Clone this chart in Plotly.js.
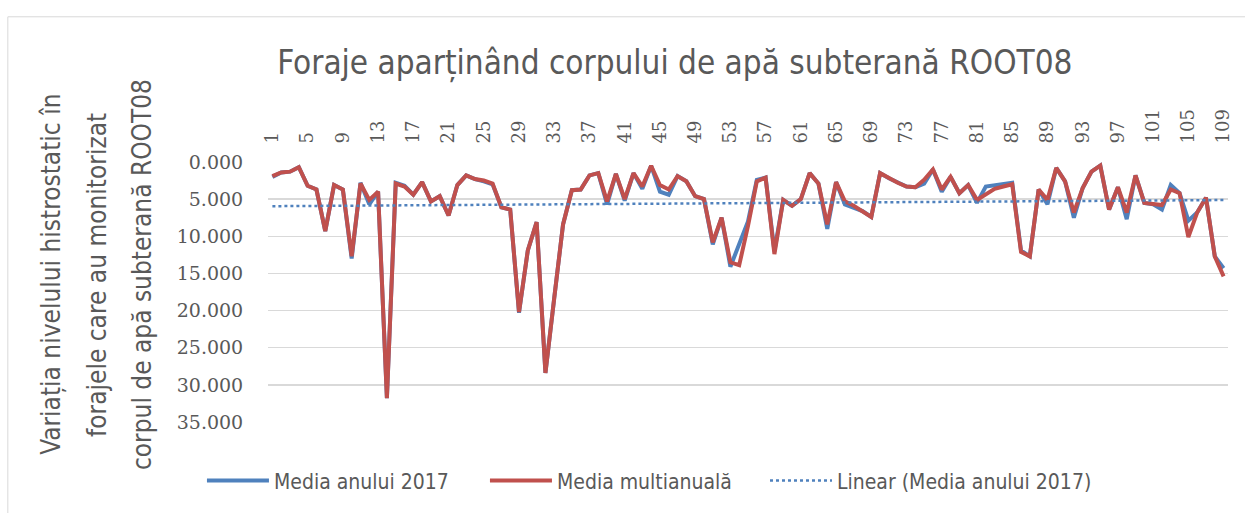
<!DOCTYPE html>
<html>
<head>
<meta charset="utf-8">
<script src="https://cdn.plot.ly/plotly-3.0.1.min.js"></script>
<style>
html,body{margin:0;padding:0;background:#fff;}
#chart{width:1245px;height:513px;}
</style>
</head>
<body>
<div id="chart"></div>
<script>
var categories = [1,2,3,4,5,6,7,8,9,10,11,12,13,14,15,16,17,18,19,20,
21,22,23,24,25,26,27,28,29,30,31,32,33,34,35,36,37,38,39,40,
41,42,43,44,45,46,47,48,49,50,51,52,53,54,55,56,57,58,59,60,
61,62,63,64,65,66,67,68,69,70,71,72,73,74,75,76,77,78,79,80,
81,82,83,84,85,86,87,88,89,90,91,92,93,94,95,96,97,98,99,100,
101,102,103,104,105,106,107,108,109];

var mediaMultianuala = [1.9,1.4,1.3,0.7,3.2,3.7,9.3,3.1,3.7,12.7,
2.9,5.1,4.0,31.8,2.9,3.3,4.4,2.7,5.3,4.6,
7.2,3.1,1.8,2.3,2.5,2.9,6.1,6.4,20.2,11.9,
8.1,28.4,18.3,8.4,3.8,3.7,1.8,1.5,5.3,1.6,
5.0,1.5,3.3,0.5,3.1,3.7,1.9,2.6,4.6,5.0,
10.8,7.5,13.5,13.9,8.6,2.6,2.1,12.4,5.1,5.9,
5.0,1.5,2.9,8.4,2.7,5.3,5.9,6.6,7.4,1.5,
2.2,2.8,3.3,3.4,2.4,1.0,3.7,2.0,4.2,3.1,
5.1,4.3,3.6,3.3,3.0,12.1,12.7,3.7,5.1,0.8,
2.6,6.8,3.5,1.3,0.5,6.4,3.4,6.8,1.8,5.5,
5.7,5.8,3.7,4.2,10.1,6.8,4.8,12.7,15.4];

var mediaAnului2017 = [2.0,1.4,1.3,0.7,3.2,3.7,9.3,3.1,3.7,13.0,
2.8,5.7,4.0,31.8,2.8,3.2,4.4,2.7,5.3,4.6,
7.2,3.1,1.8,2.3,2.6,3.0,6.1,6.4,20.3,11.9,
8.1,28.4,18.3,8.4,3.8,3.7,1.8,1.5,5.7,1.6,
5.2,1.5,3.6,0.5,4.0,4.4,1.9,2.6,4.6,5.0,
11.1,7.5,14.1,11.2,8.0,2.4,2.1,12.0,5.1,5.9,
5.0,1.5,2.9,9.0,2.7,5.7,6.2,6.6,7.4,1.5,
2.2,2.8,3.3,3.4,2.9,1.0,4.0,2.0,4.2,3.1,
5.5,3.3,3.1,3.0,2.8,11.9,12.7,3.7,5.7,0.8,
2.6,7.5,3.5,1.3,0.5,6.4,3.4,7.7,1.8,5.5,
5.7,6.4,3.1,4.2,7.9,6.8,4.8,12.7,14.3];

var xTickLabels = ['1','5','9','13','17','21','25','29','33','37','41','45','49','53','57','61','65','69','73','77','81','85','89','93','97','101','105','109'];
var yTickValues = [0,5,10,15,20,25,30,35];

var seriesNames = ['Media anului 2017','Media multianuală','Linear (Media anului 2017)'];
var titleText = 'Foraje aparținând corpului de apă subterană ROOT08';
var yTitleLines = ['Variația nivelului histrostatic în','forajele care au monitorizat','corpul de apă subterană ROOT08'];

// linear trendline (least squares) of the 2017 series, as Excel computes it
var n = categories.length, sx=0, sy=0, sxx=0, sxy=0;
for (var i=0;i<n;i++){sx+=categories[i];sy+=mediaAnului2017[i];sxx+=categories[i]*categories[i];sxy+=categories[i]*mediaAnului2017[i];}
var slope = (n*sxy - sx*sy)/(n*sxx - sx*sx);
var intercept = (sy - slope*sx)/n;
var trendX = [categories[0], categories[n-1]];
var trendY = trendX.map(function(x){return intercept + slope*x;});

var condensed = '"DejaVu Sans Condensed", "Liberation Sans Narrow", sans-serif';
var serif = '"DejaVu Serif", "Liberation Serif", serif';
var txt = '#595959';

var traces = [
  {x: categories, y: mediaAnului2017, type:'scatter', mode:'lines', name: seriesNames[0],
   line:{color:'#4f81bd', width:4}, legend:'legend'},
  {x: categories, y: mediaMultianuala, type:'scatter', mode:'lines', name: seriesNames[1],
   line:{color:'#c0504d', width:4}, legend:'legend2'},
  {x: trendX, y: trendY, type:'scatter', mode:'lines', name: seriesNames[2],
   line:{color:'#4f81bd', width:2.5, dash:'dot'}, legend:'legend3'}
];

var annotations = [];
var yTitleX = [-0.225, -0.178, -0.131];
for (var k=0;k<yTitleLines.length;k++){
  annotations.push({text: yTitleLines[k], xref:'paper', yref:'paper', x: yTitleX[k], y:0.566,
    xanchor:'center', yanchor:'middle', textangle:-90, showarrow:false,
    font:{family:condensed, size:26, color:txt}});
}

function legendAt(xp){
  return {orientation:'h', x:xp, xanchor:'left', y:-0.226, yanchor:'middle',
    itemwidth:62, font:{family:condensed, size:21, color:txt}, bgcolor:'rgba(0,0,0,0)'};
}

var layout = {
  width:1245, height:513,
  paper_bgcolor:'#fff', plot_bgcolor:'#fff',
  margin:{l:268, r:17, t:162, b:86},
  title:{text:titleText, xref:'container', yref:'container', x:0.542, y:0.879, xanchor:'center', yanchor:'middle',
    font:{family:condensed, size:33, color:txt}},
  xaxis:{type:'linear', side:'top', range:[0.5,109.5], tickmode:'array',
    tickvals: xTickLabels.map(Number), ticktext: xTickLabels, tickangle:-90,
    ticks:'outside', ticklen:14, tickcolor:'rgba(0,0,0,0)',
    showgrid:false, zeroline:false, showline:false,
    tickfont:{family:serif, size:18, color:txt}},
  yaxis:{range:[35,0], tickmode:'array', tickvals:yTickValues, tickformat:'.3f',
    ticks:'outside', ticklen:20, tickcolor:'rgba(0,0,0,0)',
    showgrid:true, gridcolor:'#d9d9d9', gridwidth:1.3, zeroline:false, showline:false,
    tickfont:{family:serif, size:19, color:txt}},
  showlegend:true,
  legend: legendAt(-0.0688),
  legend2: legendAt(0.226),
  legend3: legendAt(0.5177),
  annotations: annotations,
  shapes:[
    {type:'line', xref:'paper', yref:'paper', x0:-0.271, x1:1.1, y0:1.5585, y1:1.5585, line:{color:'#d9d9d9', width:1}},
    {type:'line', xref:'paper', yref:'paper', x0:-0.271, x1:-0.271, y0:-0.4, y1:1.5585, line:{color:'#d9d9d9', width:1}}
  ]
};

Plotly.newPlot('chart', traces, layout, {displayModeBar:false, staticPlot:true});
</script>
</body>
</html>
